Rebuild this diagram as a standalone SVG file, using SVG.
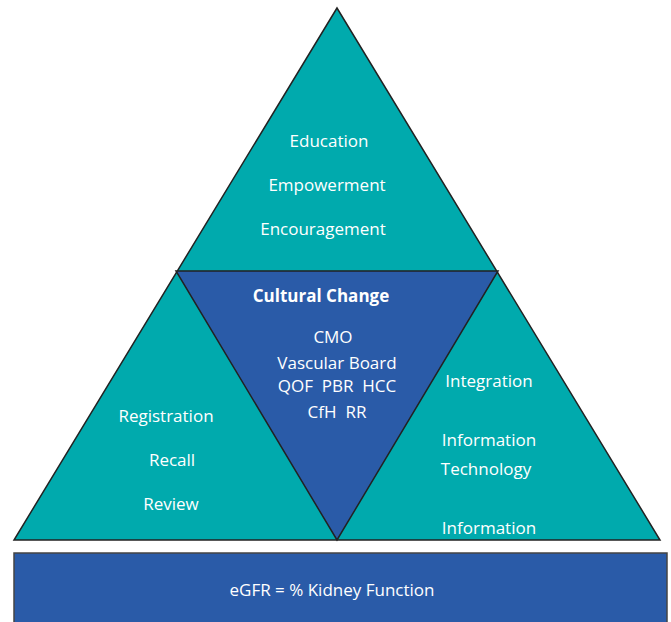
<svg xmlns="http://www.w3.org/2000/svg" width="671" height="622" viewBox="0 0 671 622">
<style>
.teal{fill:#00AAAD;stroke:#222;stroke-width:1.5;stroke-linejoin:miter}
.blue{fill:#2A5BA8;stroke:#222;stroke-width:1.5}
.rect{fill:#2A5BA8;stroke:#444;stroke-width:1.5}
text{font-family:"Open Sans","Noto Sans",sans-serif;font-size:17px;fill:#fff;text-anchor:middle;white-space:pre}
.b{font-weight:bold}
</style>
<rect width="671" height="622" fill="#fff"/>
<g id="pyramid">
<polygon class="teal" points="337,8 14,540 660,540"/>
</g>
<g id="cultural-change">
<polygon class="blue" points="176,271 498,271 337,540"/>
<text class="b" x="321" y="302">Cultural Change</text>
<text x="333" y="343">CMO</text>
<text x="337" y="369">Vascular Board</text>
<text x="337" y="392" xml:space="preserve">QOF  PBR  HCC</text>
<text x="337" y="418" xml:space="preserve">CfH  RR</text>
</g>
<g id="top">
<text x="329" y="147">Education</text>
<text x="327" y="191">Empowerment</text>
<text x="323" y="235">Encouragement</text>
</g>
<g id="left">
<text x="166" y="422">Registration</text>
<text x="172" y="466">Recall</text>
<text x="171" y="510">Review</text>
</g>
<g id="right">
<text x="489" y="387">Integration</text>
<text x="489" y="446">Information</text>
<text x="486" y="475">Technology</text>
<text x="489" y="534">Information</text>
</g>
<g id="base">
<rect class="rect" x="14" y="553" width="653" height="80"/>
<text x="332" y="596">eGFR = % Kidney Function</text>
</g>
<g id="connectors"></g>
</svg>
